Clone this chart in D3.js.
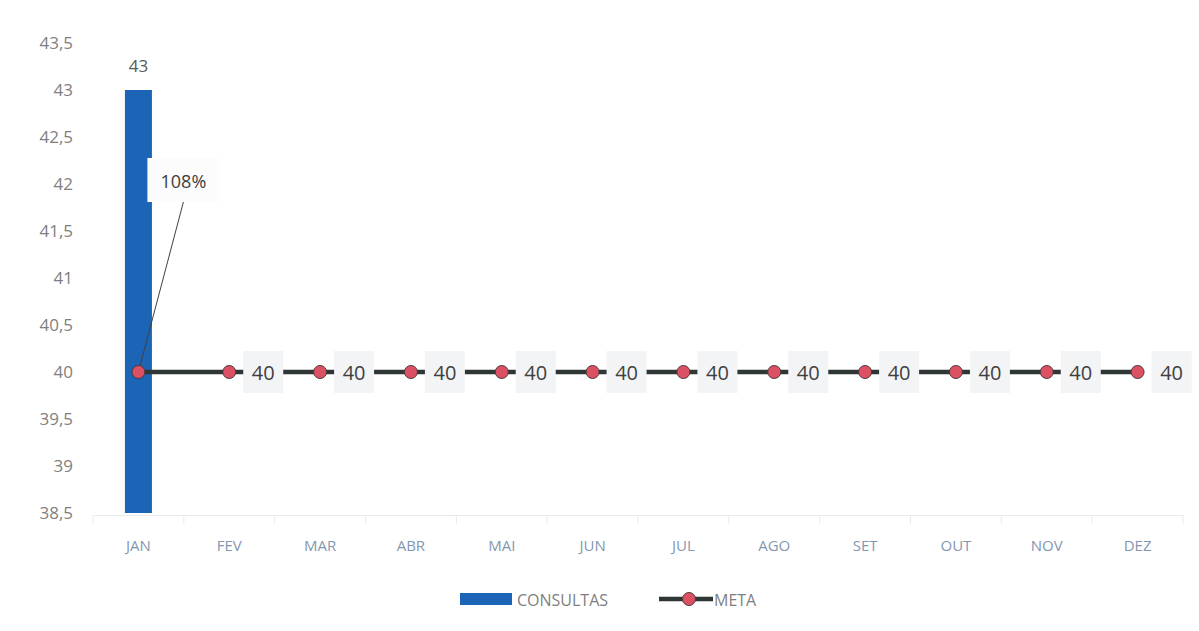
<!DOCTYPE html>
<html>
<head>
<meta charset="utf-8">
<script src="https://cdn.jsdelivr.net/npm/d3@7"></script>
<style>
  html, body { margin: 0; padding: 0; background: #ffffff; }
  svg { display: block; }
</style>
</head>
<body>
<svg id="chart" width="1199" height="631"></svg>
<script>
// Monthly consultations against the monthly target
const months = ["JAN", "FEV", "MAR", "ABR", "MAI", "JUN", "JUL", "AGO", "SET", "OUT", "NOV", "DEZ"];
const consultas = [43, null, null, null, null, null, null, null, null, null, null, null];
const meta = [40, 40, 40, 40, 40, 40, 40, 40, 40, 40, 40, 40];
const yTicks = [38.5, 39, 39.5, 40, 40.5, 41, 41.5, 42, 42.5, 43, 43.5];
const janPercent = "108%";

const svg = d3.select("#chart");
const fontFamily = "'Open Sans', 'Liberation Sans', sans-serif";

const x = d3.scaleBand().domain(months).range([93, 1183]).paddingInner(0).paddingOuter(0);
const y = d3.scaleLinear().domain([38.5, 43.5]).range([513, 43]);

const cx = m => x(m) + x.bandwidth() / 2;
const fmt = v => String(v).replace(".", ",");

// Y axis labels (no axis line)
const yAxis = d3.axisLeft(y).tickValues(yTicks).tickFormat(fmt).tickSize(0).tickPadding(0);
const gy = svg.append("g").attr("transform", "translate(73,0)").call(yAxis);
gy.select(".domain").remove();
gy.selectAll("text")
  .attr("fill", "#7f7f7f")
  .style("font-family", fontFamily)
  .style("font-size", "17px");

// Category axis along the bottom
const xAxis = d3.axisBottom(x).tickSize(0).tickPadding(25);
const gx = svg.append("g").attr("transform", "translate(0,515)").call(xAxis);
gx.select(".domain").attr("stroke", "#e8eaec").attr("stroke-width", 1);
gx.selectAll("text")
  .attr("fill", "#8497b0")
  .style("font-family", fontFamily)
  .style("font-size", "15px");
// tick marks between categories
svg.append("g").selectAll("line")
  .data(d3.range(months.length + 1))
  .join("line")
  .attr("x1", i => 93 + i * x.bandwidth())
  .attr("x2", i => 93 + i * x.bandwidth())
  .attr("y1", 515).attr("y2", 524)
  .attr("stroke", "#e8eaec").attr("stroke-width", 1);

// Bars
const barW = 27;
const barData = months.map((m, i) => ({ m, v: consultas[i] })).filter(d => d.v != null);
svg.append("g").selectAll("rect")
  .data(barData)
  .join("rect")
  .attr("x", d => cx(d.m) - barW / 2)
  .attr("y", d => y(d.v))
  .attr("width", barW)
  .attr("height", d => y(38.5) - y(d.v))
  .attr("fill", "#1b64b6");

// Bar value labels
svg.append("g").selectAll("text")
  .data(barData)
  .join("text")
  .attr("x", d => cx(d.m))
  .attr("y", d => y(d.v) - 18)
  .attr("text-anchor", "middle")
  .attr("fill", "#595959")
  .style("font-family", fontFamily)
  .style("font-size", "17px")
  .text(d => fmt(d.v));

// Target line
const lineData = months.map((m, i) => ({ m, v: meta[i] }));
const line = d3.line().x(d => cx(d.m)).y(d => y(d.v));

// Callout for January percentage
const j = lineData[0];
const calloutX = cx(j.m) + 45, calloutY = y(42) - 2;
svg.append("line")
  .attr("x1", cx(j.m)).attr("y1", y(j.v))
  .attr("x2", calloutX).attr("y2", calloutY + 20)
  .attr("stroke", "#404040").attr("stroke-width", 1);
svg.append("rect")
  .attr("x", calloutX - 36).attr("y", calloutY - 24)
  .attr("width", 72).attr("height", 44)
  .attr("fill", "#fcfcfc");
svg.append("text")
  .attr("x", calloutX).attr("y", calloutY + 6)
  .attr("text-anchor", "middle")
  .attr("fill", "#404040")
  .style("font-family", fontFamily)
  .style("font-size", "18px")
  .text(janPercent);

svg.append("path")
  .datum(lineData)
  .attr("d", line)
  .attr("fill", "none")
  .attr("stroke", "#2e3636")
  .attr("stroke-width", 4.5);

// Data labels on light boxes that sit over the line
const lbl = svg.append("g").selectAll("g")
  .data(lineData.slice(1))
  .join("g")
  .attr("transform", d => `translate(${cx(d.m)},${y(d.v)})`);
lbl.append("rect")
  .attr("x", 14).attr("y", -21)
  .attr("width", 40).attr("height", 42)
  .attr("fill", "#f3f4f6");
lbl.append("text")
  .attr("x", 34).attr("y", 8)
  .attr("text-anchor", "middle")
  .attr("fill", "#404040")
  .style("font-family", fontFamily)
  .style("font-size", "20px")
  .text(d => fmt(d.v));

// Markers
svg.append("g").selectAll("circle")
  .data(lineData)
  .join("circle")
  .attr("cx", d => cx(d.m))
  .attr("cy", d => y(d.v))
  .attr("r", 6.5)
  .attr("fill", "#dc5063")
  .attr("stroke", "#4a3a3a")
  .attr("stroke-width", 1);

// Legend
const lg = svg.append("g").attr("transform", "translate(0,599)");
lg.append("rect").attr("x", 460).attr("y", -6).attr("width", 52).attr("height", 12).attr("fill", "#1b64b6");
lg.append("text").attr("x", 517).attr("y", 7)
  .attr("fill", "#7f7f7f").style("font-family", fontFamily).style("font-size", "16px").text("CONSULTAS");
lg.append("line").attr("x1", 659).attr("x2", 713).attr("y1", 0).attr("y2", 0)
  .attr("stroke", "#2e3636").attr("stroke-width", 4.5);
lg.append("circle").attr("cx", 689).attr("cy", 0).attr("r", 6.5)
  .attr("fill", "#dc5063").attr("stroke", "#4a3a3a").attr("stroke-width", 1);
lg.append("text").attr("x", 714).attr("y", 7)
  .attr("fill", "#7f7f7f").style("font-family", fontFamily).style("font-size", "16px").text("META");
</script>
</body>
</html>
